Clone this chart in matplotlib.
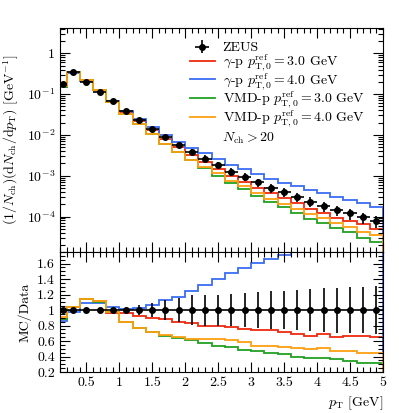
import numpy as np
import matplotlib.pyplot as plt
from matplotlib.ticker import MultipleLocator, LogLocator, FuncFormatter, NullFormatter

plt.rcParams['font.family'] = 'serif'
plt.rcParams['font.serif'] = ['cmr10']
plt.rcParams['mathtext.fontset'] = 'cm'
plt.rcParams['axes.formatter.use_mathtext'] = True
plt.rcParams['axes.unicode_minus'] = False
plt.rcParams['font.size'] = 10

# bin edges in pT [GeV]
edges = [0.1, 0.2, 0.4, 0.6, 0.8, 1.0, 1.2, 1.4, 1.6, 1.8, 2.0, 2.2, 2.4, 2.6,
         2.8, 3.0, 3.2, 3.4, 3.6, 3.8, 4.0, 4.2, 4.4, 4.6, 4.8, 5.0]
pt = [0.15, 0.3, 0.5, 0.7, 0.9, 1.1, 1.3, 1.5, 1.7, 1.9, 2.1, 2.3, 2.5, 2.7,
      2.9, 3.1, 3.3, 3.5, 3.7, 3.9, 4.1, 4.3, 4.5, 4.7, 4.9]

# ZEUS data (1/Nch) dNch/dpT
zeus = [0.174, 0.342, 0.198, 0.1125, 0.0667, 0.0386, 0.0238, 0.01435, 0.00897,
        0.00582, 0.00388, 0.00264, 0.00183, 0.00125, 0.000945, 0.000689,
        0.000508, 0.000392, 0.000306, 0.000231, 0.000181, 0.000144, 0.000120,
        0.0000955, 0.0000776]
# relative uncertainty of the data
zeus_rel = [0.02, 0.02, 0.02, 0.02, 0.025, 0.03, 0.06, 0.09, 0.13, 0.16, 0.19,
            0.20, 0.20, 0.21, 0.22, 0.23, 0.24, 0.25, 0.26, 0.27, 0.28, 0.29,
            0.30, 0.30, 0.31]

# MC / Data ratios
gp30 = [0.89, 1.04, 1.14, 1.12, 0.96, 0.965, 0.92, 0.90, 0.88, 0.85, 0.83, 0.80,
        0.79, 0.775, 0.755, 0.745, 0.74, 0.72, 0.685, 0.67, 0.69, 0.65, 0.66,
        0.67, 0.65]
gp40 = [0.86, 0.98, 1.085, 1.09, 1.04, 1.02, 1.03, 1.07, 1.13, 1.17, 1.24, 1.33,
        1.40, 1.48, 1.54, 1.61, 1.66, 1.71, 1.83, 1.93, 2.12, 2.12, 2.12, 2.2,
        2.24]
vmd30 = [0.88, 1.04, 1.14, 1.10, 0.97, 0.85, 0.77, 0.72, 0.67, 0.64, 0.61, 0.58,
         0.54, 0.52, 0.49, 0.47, 0.45, 0.43, 0.40, 0.38, 0.38, 0.37, 0.34, 0.32,
         0.31]
vmd40 = [0.915, 1.04, 1.14, 1.12, 0.97, 0.85, 0.77, 0.72, 0.68, 0.65, 0.63, 0.62,
         0.625, 0.61, 0.585, 0.54, 0.53, 0.52, 0.505, 0.50, 0.505, 0.47, 0.47,
         0.44, 0.45]

labels = [r'$\gamma$-p $p_{\mathrm{T},0}^{\mathrm{ref}} = 3.0$ GeV',
          r'$\gamma$-p $p_{\mathrm{T},0}^{\mathrm{ref}} = 4.0$ GeV',
          r'VMD-p $p_{\mathrm{T},0}^{\mathrm{ref}} = 3.0$ GeV',
          r'VMD-p $p_{\mathrm{T},0}^{\mathrm{ref}} = 4.0$ GeV']
colors = ['#ee2a0e', '#3a6cf4', '#22a022', '#ff9e10']

edges = np.array(edges)
pt = np.array(pt)
zeus = np.array(zeus)
xerr = [pt - edges[:-1], edges[1:] - pt]
ratios = [np.array(r) for r in (gp30, gp40, vmd30, vmd40)]

fig = plt.figure(figsize=(3.99, 4.13), dpi=100)
ax = fig.add_axes([0.1504, 0.3898, 0.8095, 0.5417])
rax = fig.add_axes([0.1504, 0.0993, 0.8095, 0.2905])

handles = []
for r, c in zip(ratios, colors):
    ax.stairs(r * zeus, edges, color=c, lw=1.3)
    rax.stairs(r, edges, color=c, lw=1.3)
    handles.append(plt.Line2D([], [], color=c, lw=1.3))

dat = ax.errorbar(pt, zeus, xerr=xerr, yerr=zeus * np.array(zeus_rel), fmt='o',
                  color='black', ms=4, lw=1.2, capsize=0, zorder=5)
rax.errorbar(pt, np.ones_like(pt), xerr=xerr, yerr=zeus_rel, fmt='o',
             color='black', ms=4, lw=1.2, capsize=0, zorder=5)

ax.set_yscale('log')
ax.set_xlim(0.1, 5.0)
ax.set_ylim(1.35e-5, 4.1)
rax.set_xlim(0.1, 5.0)
rax.set_ylim(0.2, 1.75)

def logfmt(v, pos):
    e = int(round(np.log10(v)))
    return '1' if e == 0 else r'$10^{%d}$' % e

ax.yaxis.set_major_locator(LogLocator(base=10, numticks=20))
ax.yaxis.set_minor_locator(LogLocator(base=10, subs=np.arange(2, 10), numticks=20))
ax.yaxis.set_major_formatter(FuncFormatter(logfmt))
ax.yaxis.set_minor_formatter(NullFormatter())
ax.xaxis.set_major_locator(MultipleLocator(0.5))
ax.xaxis.set_minor_locator(MultipleLocator(0.1))
ax.set_xticklabels([])
rax.xaxis.set_major_locator(MultipleLocator(0.5))
rax.xaxis.set_minor_locator(MultipleLocator(0.1))
rax.xaxis.set_major_formatter(FuncFormatter(lambda v, p: '%g' % v))
rax.yaxis.set_major_locator(MultipleLocator(0.2))
rax.yaxis.set_minor_locator(MultipleLocator(0.05))
rax.yaxis.set_major_formatter(FuncFormatter(lambda v, p: '%g' % round(v, 2)))

for a in (ax, rax):
    a.tick_params(which='both', direction='in', top=True, right=True, width=0.8,
                  labelsize=10)
    a.tick_params(which='major', length=7)
    a.tick_params(which='minor', length=3.5)
    for s in a.spines.values():
        s.set_linewidth(0.8)

ax.set_ylabel(r'$(1/N_{\mathrm{ch}})(\mathrm{d}N_{\mathrm{ch}}/\mathrm{d}p_{\mathrm{T}})$ [GeV$^{-1}$]')
rax.set_ylabel('MC/Data')
rax.set_xlabel(r'$p_{\mathrm{T}}$ [GeV]', loc='right')

ax.legend([dat] + handles, ['ZEUS'] + labels, loc='upper left',
          bbox_to_anchor=(0.385, 0.965), frameon=False, fontsize=10,
          handlelength=1.8, handletextpad=0.55, labelspacing=-0.14,
          borderaxespad=0)
ax.text(0.503, 0.509, r'$N_{\mathrm{ch}} > 20$', transform=ax.transAxes,
        fontsize=10, va='center', ha='left')

fig.savefig('out.png', dpi=100)
